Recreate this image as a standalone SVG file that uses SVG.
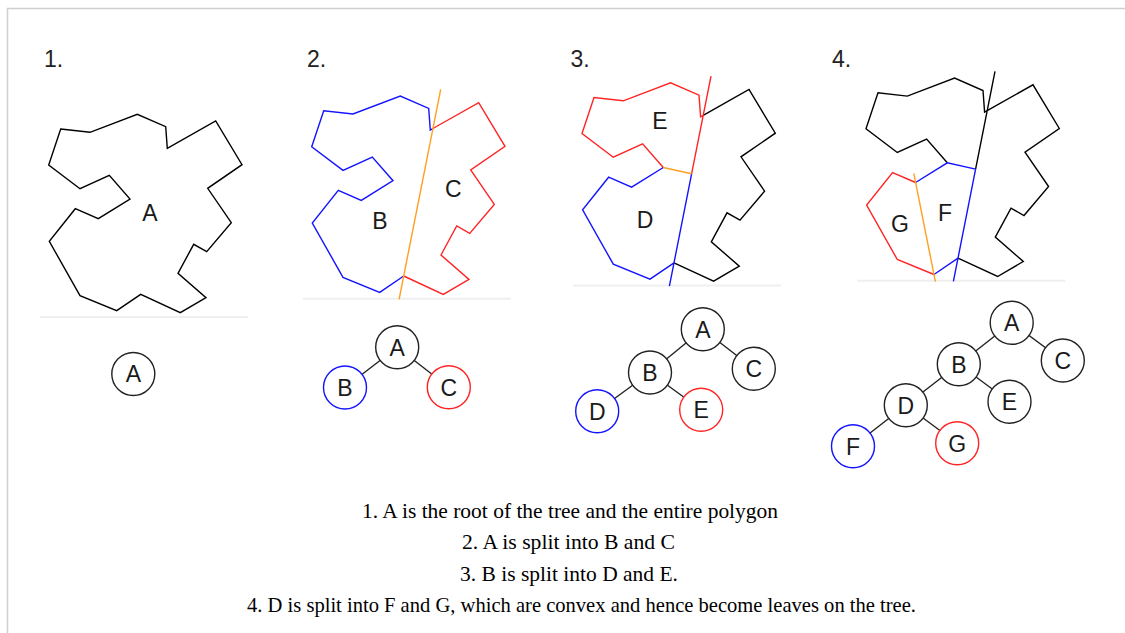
<svg xmlns="http://www.w3.org/2000/svg" width="1125" height="633" viewBox="0 0 1125 633">
<style>
.bg{fill:#fff}
.frame{fill:none;stroke:#cfcfcf;stroke-width:1.5}
.edge{fill:none;stroke-width:1.4;stroke-linejoin:miter;stroke-linecap:butt}
.k{stroke:#000}
.b{stroke:#1414ff}
.r{stroke:#ff2424}
.o{stroke:#ffa020}
.base{stroke:#efefef;stroke-width:2}
.lbl{font-family:"Liberation Sans",Arial,sans-serif;font-size:23px;fill:#1a1a1a}
.num{font-family:"Liberation Sans",Arial,sans-serif;font-size:23px;fill:#222}
.node circle{fill:#fff;stroke-width:1.4}
.node text{font-family:"Liberation Sans",Arial,sans-serif;font-size:23px;fill:#1a1a1a;text-anchor:middle}
.cap{font-family:"Liberation Serif","Times New Roman",serif;font-size:21px;fill:#000;text-anchor:middle}
.tl{stroke:#222;stroke-width:1.4}
</style>
<rect class="bg" x="0" y="0" width="1125" height="633"/>
<path class="frame" d="M7.5,633 V8.5 H1125"/>

<!-- Panel 1 -->
<g id="panel1">
  <text class="num" x="44" y="67">1.</text>
  <line class="base" x1="40" y1="317" x2="248" y2="317"/>
  <polygon class="edge k" points="60.7,129 90,132.3 137.3,114.3 165.7,126.7 167.3,148.3 215.7,121 242,164.7 207.7,188.3 231.3,222.7 206.7,251.7 193.7,244.3 178,273.3 206,297.7 180.3,312.7 140.7,294.3 116.7,310.7 80,295.7 49.3,241.3 75.3,208.7 98.3,218.7 130,199 109.3,175.3 80,188.7 48.7,165"/>
  <text class="lbl" x="150" y="221" text-anchor="middle">A</text>
</g>

<!-- Panel 2 -->
<g id="panel2">
  <text class="num" x="307" y="67">2.</text>
  <g transform="translate(263,-18.3)">
    <line class="base" x1="40" y1="317" x2="248" y2="317"/>
    <path class="edge b" d="M169.9,146.8 L167.3,148.3 165.7,126.7 137.3,114.3 90,132.3 60.7,129 48.7,165 80,188.7 109.3,175.3 130,199 98.3,218.7 75.3,208.7 49.3,241.3 80,295.7 116.7,310.7 140.7,294.3"/>
    <path class="edge r" d="M169.9,146.8 L215.7,121 242,164.7 207.7,188.3 231.3,222.7 206.7,251.7 193.7,244.3 178,273.3 206,297.7 180.3,312.7 140.7,294.3"/>
    <path class="edge o" d="M177.7,107.6 L136.1,317.6"/>
  </g>
  <text class="lbl" x="380" y="229" text-anchor="middle">B</text>
  <text class="lbl" x="453.3" y="196.6" text-anchor="middle">C</text>
</g>

<!-- Panel 3 -->
<g id="panel3">
  <text class="num" x="570.5" y="67">3.</text>
  <g transform="translate(533.3,-31.5)">
    <line class="base" x1="40" y1="317" x2="248" y2="317"/>
    <path class="edge k" d="M169.9,146.8 L215.7,121 242,164.7 207.7,188.3 231.3,222.7 206.7,251.7 193.7,244.3 178,273.3 206,297.7 180.3,312.7 140.7,294.3"/>
    <path class="edge r" d="M177.7,107.6 L158.3,205.3 M169.9,146.8 L167.3,148.3 165.7,126.7 137.3,114.3 90,132.3 60.7,129 48.7,165 80,188.7 109.3,175.3 130,199"/>
    <path class="edge b" d="M158.3,205.3 L136.1,317.6 M130,199 L98.3,218.7 75.3,208.7 49.3,241.3 80,295.7 116.7,310.7 140.7,294.3"/>
    <path class="edge o" d="M130,199 L158.3,205.3"/>
  </g>
  <text class="lbl" x="660" y="129" text-anchor="middle">E</text>
  <text class="lbl" x="645" y="228.3" text-anchor="middle">D</text>
</g>

<!-- Panel 4 -->
<g id="panel4">
  <text class="num" x="832" y="67">4.</text>
  <g transform="translate(817.3,-36.2)">
    <line class="base" x1="40" y1="317" x2="248" y2="317"/>
    <path class="edge k" d="M177.7,107.6 L158.3,205.3 M169.9,146.8 L215.7,121 242,164.7 207.7,188.3 231.3,222.7 206.7,251.7 193.7,244.3 178,273.3 206,297.7 180.3,312.7 140.7,294.3 M169.9,146.8 L167.3,148.3 165.7,126.7 137.3,114.3 90,132.3 60.7,129 48.7,165 80,188.7 109.3,175.3 130,199"/>
    <path class="edge b" d="M98.3,218.7 L130,199 158.3,205.3 M158.3,205.3 L136.1,317.6 M140.7,294.3 L116.7,310.7"/>
    <path class="edge r" d="M98.3,218.7 L75.3,208.7 49.3,241.3 80,295.7 116.7,310.7"/>
    <path class="edge o" d="M96.5,209.5 L118.1,317.9"/>
  </g>
  <text class="lbl" x="945" y="221" text-anchor="middle">F</text>
  <text class="lbl" x="900" y="231.6" text-anchor="middle">G</text>
</g>

<!-- Tree connectors -->
<g id="connectors">
  <line class="tl" x1="397.2" y1="347.2" x2="345" y2="387.5"/>
  <line class="tl" x1="397.2" y1="347.2" x2="448.8" y2="387.2"/>
  <line class="tl" x1="702.8" y1="329.2" x2="650" y2="372.5"/>
  <line class="tl" x1="702.8" y1="329.2" x2="753.8" y2="368.8"/>
  <line class="tl" x1="650" y1="372.5" x2="597.2" y2="411.3"/>
  <line class="tl" x1="650" y1="372.5" x2="701.2" y2="409.8"/>
  <line class="tl" x1="1011.7" y1="322.8" x2="958.8" y2="364.2"/>
  <line class="tl" x1="1011.7" y1="322.8" x2="1062.8" y2="360.5"/>
  <line class="tl" x1="958.8" y1="364.2" x2="905.8" y2="405.3"/>
  <line class="tl" x1="958.8" y1="364.2" x2="1009.5" y2="401.7"/>
  <line class="tl" x1="905.8" y1="405.3" x2="853" y2="446.2"/>
  <line class="tl" x1="905.8" y1="405.3" x2="957.2" y2="443.3"/>
</g>

<!-- Tree 1 -->
<g id="t1-A" class="node"><circle cx="133.3" cy="374" r="21.5" stroke="#222"/><text x="133.3" y="382.3">A</text></g>
<!-- Tree 2 -->
<g id="t2-A" class="node"><circle cx="397.2" cy="347.2" r="21.5" stroke="#222"/><text x="397.2" y="355.5">A</text></g>
<g id="t2-B" class="node"><circle cx="345" cy="387.5" r="21.5" stroke="#1414ff"/><text x="345" y="395.8">B</text></g>
<g id="t2-C" class="node"><circle cx="448.8" cy="387.2" r="21.5" stroke="#ff2424"/><text x="448.8" y="395.5">C</text></g>
<!-- Tree 3 -->
<g id="t3-A" class="node"><circle cx="702.8" cy="329.2" r="21.5" stroke="#222"/><text x="702.8" y="337.5">A</text></g>
<g id="t3-B" class="node"><circle cx="650" cy="372.5" r="21.5" stroke="#222"/><text x="650" y="380.8">B</text></g>
<g id="t3-C" class="node"><circle cx="753.8" cy="368.8" r="21.5" stroke="#222"/><text x="753.8" y="377.1">C</text></g>
<g id="t3-D" class="node"><circle cx="597.2" cy="411.3" r="21.5" stroke="#1414ff"/><text x="597.2" y="419.6">D</text></g>
<g id="t3-E" class="node"><circle cx="701.2" cy="409.8" r="21.5" stroke="#ff2424"/><text x="701.2" y="418.1">E</text></g>
<!-- Tree 4 -->
<g id="t4-A" class="node"><circle cx="1011.7" cy="322.8" r="21.5" stroke="#222"/><text x="1011.7" y="331.1">A</text></g>
<g id="t4-B" class="node"><circle cx="958.8" cy="364.2" r="21.5" stroke="#222"/><text x="958.8" y="372.5">B</text></g>
<g id="t4-C" class="node"><circle cx="1062.8" cy="360.5" r="21.5" stroke="#222"/><text x="1062.8" y="368.8">C</text></g>
<g id="t4-D" class="node"><circle cx="905.8" cy="405.3" r="21.5" stroke="#222"/><text x="905.8" y="413.6">D</text></g>
<g id="t4-E" class="node"><circle cx="1009.5" cy="401.7" r="21.5" stroke="#222"/><text x="1009.5" y="410">E</text></g>
<g id="t4-F" class="node"><circle cx="853" cy="446.2" r="21.5" stroke="#1414ff"/><text x="853" y="454.5">F</text></g>
<g id="t4-G" class="node"><circle cx="957.2" cy="443.3" r="21.5" stroke="#ff2424"/><text x="957.2" y="451.6">G</text></g>

<!-- Caption -->
<g id="caption">
  <text class="cap" x="570" y="517.5" textLength="416" lengthAdjust="spacingAndGlyphs">1. A is the root of the tree and the entire polygon</text>
  <text class="cap" x="568.5" y="549" textLength="213" lengthAdjust="spacingAndGlyphs">2. A is split into B and C</text>
  <text class="cap" x="569" y="580.5" textLength="218" lengthAdjust="spacingAndGlyphs">3. B is split into D and E.</text>
  <text class="cap" x="581.5" y="612" textLength="669" lengthAdjust="spacingAndGlyphs">4. D is split into F and G, which are convex and hence become leaves on the tree.</text>
</g>
</svg>
